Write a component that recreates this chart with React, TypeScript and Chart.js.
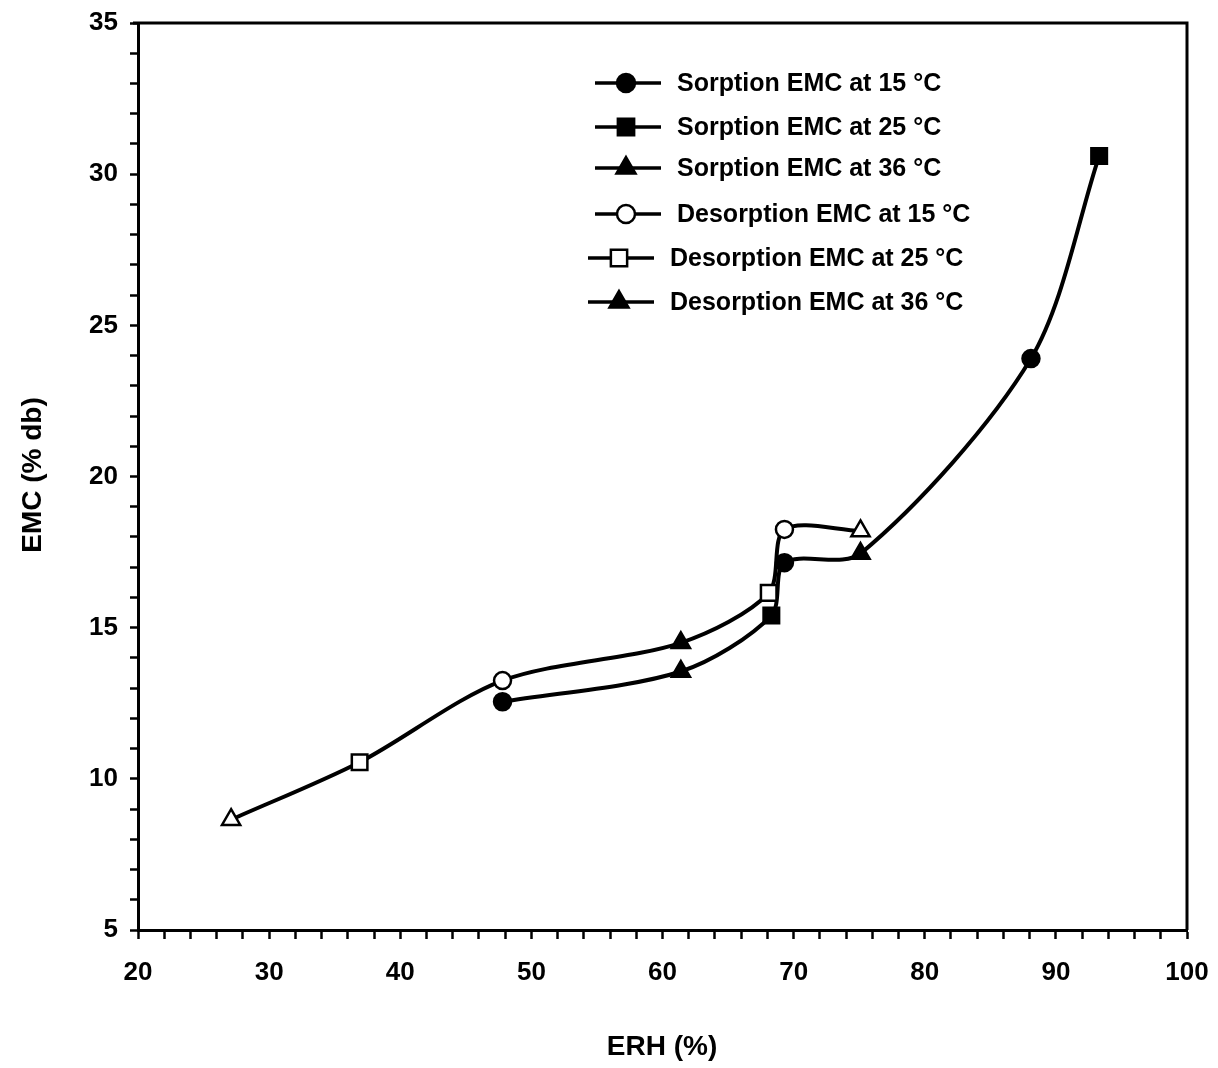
import React, { useEffect, useRef } from "react";
import { Chart, registerables } from "chart.js";

Chart.register(...registerables);

// Equilibrium moisture content (EMC, % dry basis) vs. equilibrium relative humidity (ERH, %)
const erhSorption15 = [47.8, 69.3, 88.1];
const emcSorption15 = [12.55, 17.15, 23.9];
const erhSorption25 = [68.3, 93.3];
const emcSorption25 = [15.4, 30.6];
const erhSorption36 = [61.4, 75.1];
const emcSorption36 = [13.55, 17.45];

const erhDesorption15 = [47.8, 69.3];
const emcDesorption15 = [13.25, 18.25];
const erhDesorption25 = [36.9, 68.1];
const emcDesorption25 = [10.55, 16.15];
const erhDesorption36 = [27.1, 61.4, 75.1];
const emcDesorption36 = [8.65, 14.5, 18.2];
// the 61 % desorption reading is printed solid
const desorption36Solid = [false, true, false];

const seriesLabels = [
  "Sorption EMC at 15 \u00B0C",
  "Sorption EMC at 25 \u00B0C",
  "Sorption EMC at 36 \u00B0C",
  "Desorption EMC at 15 \u00B0C",
  "Desorption EMC at 25 \u00B0C",
  "Desorption EMC at 36 \u00B0C",
];

const xTickLabels = [20, 30, 40, 50, 60, 70, 80, 90, 100];
const yTickLabels = [5, 10, 15, 20, 25, 30, 35];

const FONT = "'Liberation Sans', Arial, Helvetica, sans-serif";

type Pt = { x: number; y: number };
const zip = (xs: number[], ys: number[]): Pt[] => xs.map((x, i) => ({ x, y: ys[i] }));
const byX = (a: Pt, b: Pt) => a.x - b.x;

const sorptionCurve = [
  ...zip(erhSorption15, emcSorption15),
  ...zip(erhSorption25, emcSorption25),
  ...zip(erhSorption36, emcSorption36),
].sort(byX);
const desorptionCurve = [
  ...zip(erhDesorption15, emcDesorption15),
  ...zip(erhDesorption25, emcDesorption25),
  ...zip(erhDesorption36, emcDesorption36),
].sort(byX);

const styles = ["circle", "rect", "triangle", "circle", "rect", "triangle"] as const;
const radii: Record<string, number> = { circle: 8.5, rect: 11, triangle: 10.5 };
const solidSeries = [true, true, true, false, false, false];

function markerSet(label: string, xs: number[], ys: number[], i: number, fills?: boolean[]) {
  const style = styles[i];
  const solid = fills ? fills.map((f) => (f ? "#000" : "#fff")) : solidSeries[i] ? "#000" : "#fff";
  return {
    type: "scatter" as const,
    label,
    data: zip(xs, ys),
    showLine: false,
    pointStyle: style,
    pointRadius: radii[style],
    pointBackgroundColor: solid,
    pointBorderColor: "#000",
    pointBorderWidth: 2.5,
  };
}

function drawMarker(ctx: CanvasRenderingContext2D, style: string, x: number, y: number, solid: boolean) {
  const r = radii[style] + 0.5;
  ctx.beginPath();
  if (style === "circle") {
    ctx.arc(x, y, r, 0, Math.PI * 2);
  } else if (style === "rect") {
    const s = Math.SQRT1_2 * r;
    ctx.rect(x - s, y - s, 2 * s, 2 * s);
  } else {
    ctx.moveTo(x, y - r);
    ctx.lineTo(x + r * Math.cos(Math.PI / 6), y + r * 0.5);
    ctx.lineTo(x - r * Math.cos(Math.PI / 6), y + r * 0.5);
    ctx.closePath();
  }
  ctx.fillStyle = solid ? "#000" : "#fff";
  ctx.fill();
  ctx.lineWidth = 2.5;
  ctx.strokeStyle = "#000";
  ctx.stroke();
}

// frame, axis titles and the line-and-marker legend
const decorations = {
  id: "decorations",
  afterDraw(chart: Chart) {
    const { ctx, chartArea } = chart;
    ctx.save();
    ctx.strokeStyle = "#000";
    ctx.lineWidth = 3;
    ctx.beginPath();
    ctx.moveTo(chartArea.left - 5, chartArea.top);
    ctx.lineTo(chartArea.right, chartArea.top);
    ctx.lineTo(chartArea.right, chartArea.bottom);
    ctx.stroke();

    ctx.fillStyle = "#000";
    ctx.font = `bold 28px ${FONT}`;
    ctx.textAlign = "center";
    ctx.textBaseline = "middle";
    ctx.fillText("ERH (%)", 662, 1047);
    ctx.save();
    ctx.translate(33, 475);
    ctx.rotate(-Math.PI / 2);
    ctx.fillText("EMC (% db)", 0, 0);
    ctx.restore();

    const rowY = [83, 127, 168, 214, 258, 302];
    const rowShift = [0, 0, 0, 0, -7, -7];
    ctx.font = `bold 25px ${FONT}`;
    ctx.textAlign = "left";
    seriesLabels.forEach((label, i) => {
      const x0 = 595 + rowShift[i];
      const y = rowY[i];
      ctx.beginPath();
      ctx.lineWidth = 3.5;
      ctx.moveTo(x0, y);
      ctx.lineTo(x0 + 66, y);
      ctx.stroke();
      drawMarker(ctx, styles[i], x0 + 31, y, i === 5 ? true : solidSeries[i]);
      ctx.fillStyle = "#000";
      ctx.fillText(label, x0 + 82, y + 1);
    });
    ctx.restore();
  },
};

export default function App() {
  const canvasRef = useRef<HTMLCanvasElement | null>(null);

  useEffect(() => {
    const canvas = canvasRef.current;
    if (!canvas) return;
    const tickFont = { family: FONT, size: 26, weight: "bold" as const };
    const curve = (data: Pt[]) => ({
      type: "line" as const,
      label: "",
      data,
      borderColor: "#000",
      borderWidth: 4,
      pointRadius: 0,
      tension: 0.3,
      fill: false,
    });
    const chart = new Chart(canvas, {
      type: "scatter",
      data: {
        datasets: [
          markerSet(seriesLabels[0], erhSorption15, emcSorption15, 0),
          markerSet(seriesLabels[1], erhSorption25, emcSorption25, 1),
          markerSet(seriesLabels[2], erhSorption36, emcSorption36, 2),
          markerSet(seriesLabels[3], erhDesorption15, emcDesorption15, 3),
          markerSet(seriesLabels[4], erhDesorption25, emcDesorption25, 4),
          markerSet(seriesLabels[5], erhDesorption36, emcDesorption36, 5, desorption36Solid),
          curve(sorptionCurve),
          curve(desorptionCurve),
        ] as any,
      },
      options: {
        animation: false,
        responsive: false,
        maintainAspectRatio: false,
        layout: { padding: { top: 23, right: 31, left: 0, bottom: 0 } },
        plugins: { legend: { display: false }, tooltip: { enabled: false } },
        scales: {
          x: {
            type: "linear",
            min: xTickLabels[0],
            max: xTickLabels[xTickLabels.length - 1],
            afterFit: (s: any) => {
              s.height = 138;
              s.paddingLeft = 0;
              s.paddingRight = 0;
            },
            ticks: {
              stepSize: 2,
              autoSkip: false,
              maxRotation: 0,
              padding: 18,
              color: "#000",
              font: tickFont,
              callback: (v: any) => (xTickLabels.includes(Number(v)) ? String(v) : ""),
            },
            grid: {
              drawOnChartArea: false,
              drawTicks: true,
              tickLength: 9,
              tickWidth: 2.5,
              tickColor: "#000",
            },
            border: { display: true, color: "#000", width: 3 },
          },
          y: {
            type: "linear",
            min: yTickLabels[0],
            max: yTickLabels[yTickLabels.length - 1],
            afterFit: (s: any) => {
              s.width = 138;
              s.paddingTop = 0;
              s.paddingBottom = 0;
            },
            ticks: {
              stepSize: 1,
              autoSkip: false,
              padding: 12,
              color: "#000",
              font: tickFont,
              callback: (v: any) => (yTickLabels.includes(Number(v)) ? String(v) : ""),
            },
            grid: {
              drawOnChartArea: false,
              drawTicks: true,
              tickLength: 8,
              tickWidth: 2.5,
              tickColor: "#000",
            },
            border: { display: true, color: "#000", width: 3 },
          },
        },
      },
      plugins: [decorations],
    });
    return () => chart.destroy();
  }, []);

  return (
    <div style={{ position: "fixed", left: 0, top: 0, width: 1218, height: 1068, background: "#fff" }}>
      <canvas ref={canvasRef} width={1218} height={1068} style={{ display: "block" }} />
    </div>
  );
}
